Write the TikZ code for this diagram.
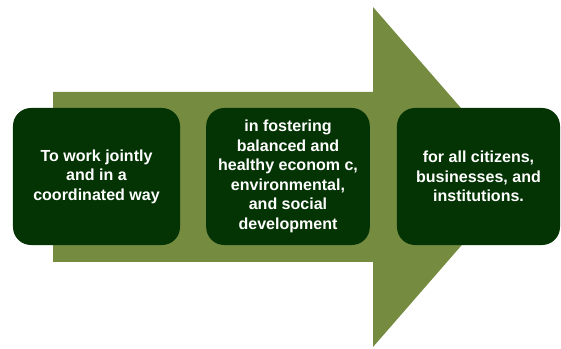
\documentclass[tikz,border=0pt]{standalone}
\usepackage{fontspec}
\setmainfont{Liberation Sans}
\usepackage{tikz}
\definecolor{olive}{RGB}{117,139,64}
\definecolor{darkgreen}{RGB}{4,52,4}

\begin{document}
\begin{tikzpicture}[x=0.025cm, y=0.025cm,
    box/.style={fill=darkgreen, text=white, rounded corners=0.45cm, align=center,
      minimum height=3.425cm, inner sep=0pt,
      font=\fontsize{11.4}{13.9}\selectfont\bfseries}]
  \useasboundingbox (0,0) rectangle (561,349);
  % big arrow behind the boxes
  \fill[olive] (53,87) -- (53,257) -- (373,257) -- (373,342) -- (521,172)
    -- (373,2) -- (373,87) -- cycle;
  \node[box, minimum width=4.175cm] (joint) at (96.5,172.5) {To work jointly\\and in a\\coordinated way};
  \node[box, minimum width=4.09cm] (fostering) at (288,172.5) {in fostering\\balanced and\\healthy econom c,\\environmental,\\and social\\development};
  \node[box, minimum width=4.075cm] (citizens) at (478.5,172.5) {for all citizens,\\businesses, and\\institutions.};
\end{tikzpicture}
\end{document}
